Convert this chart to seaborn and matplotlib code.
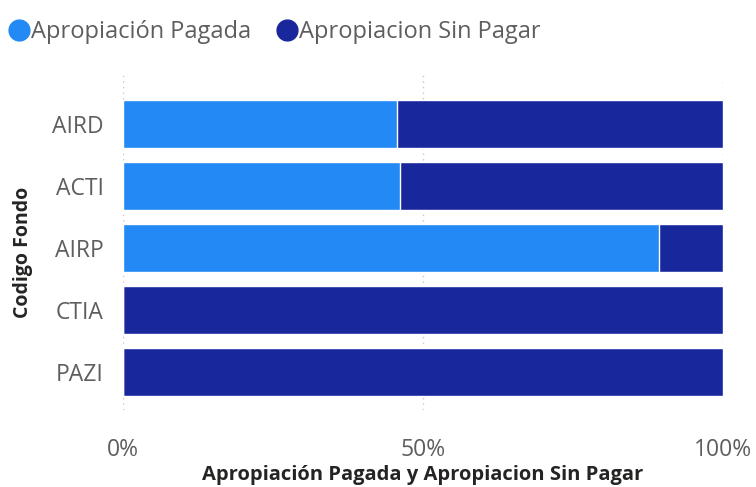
import pandas as pd
import seaborn as sns
import matplotlib.pyplot as plt
from matplotlib.lines import Line2D
from matplotlib.ticker import PercentFormatter

# Data (share of appropriation, %)
codigos = ["AIRD", "ACTI", "AIRP", "CTIA", "PAZI"]
pagada = [45.7, 46.2, 89.4, 0.0, 0.0]
sin_pagar = [54.3, 53.8, 10.6, 100.0, 100.0]

df = pd.DataFrame({"Codigo Fondo": codigos, "Pagada": pagada, "Sin Pagar": sin_pagar})
df["Total"] = df["Pagada"] + df["Sin Pagar"]

light = "#2389F4"
dark = "#18289C"
grey = "#605E5C"

sns.set_theme(style="white")
plt.rcParams["font.family"] = ["Open Sans", "DejaVu Sans"]

fig = plt.figure(figsize=(7.56, 4.87), dpi=100)
ax = fig.add_axes([0.1627, 0.158, 0.7937, 0.688])

# stacked 100% bars: draw total in dark, then paid part on top
sns.barplot(data=df, x="Total", y="Codigo Fondo", color=dark, width=0.77,
            saturation=1, ax=ax, zorder=2)
sns.barplot(data=df, x="Pagada", y="Codigo Fondo", color=light, width=0.77,
            saturation=1, ax=ax, zorder=3)

ax.set_xlim(0, 100)
ax.set_ylim(4.61, -0.79)
ax.set_xticks([0, 50, 100])
ax.xaxis.set_major_formatter(PercentFormatter(decimals=0))
ax.grid(axis="x", color="#C8C6C4", linestyle=(0, (1, 3)), linewidth=1, zorder=0)
for s in ax.spines.values():
    s.set_visible(False)
ax.tick_params(axis="both", length=0, labelsize=16.5, labelcolor=grey)
ax.tick_params(axis="x", pad=20)
ax.tick_params(axis="y", pad=14)

ax.set_xlabel("Apropiación Pagada y Apropiacion Sin Pagar", fontsize=14.5,
              fontweight="bold", color="#252423", labelpad=2)
ax.set_ylabel("Codigo Fondo", fontsize=14, fontweight="bold", color="#252423")
ax.yaxis.set_label_coords(-0.15, 0.47)

handles = [Line2D([], [], marker="o", linestyle="none", markersize=15,
                  markerfacecolor=light, markeredgecolor=light),
           Line2D([], [], marker="o", linestyle="none", markersize=15,
                  markerfacecolor=dark, markeredgecolor=dark)]
fig.legend(handles, ["Apropiación Pagada", "Apropiacion Sin Pagar"],
           loc="upper left", bbox_to_anchor=(-0.015, 0.992), ncol=2, frameon=False,
           fontsize=17, labelcolor=grey, handletextpad=-0.1, handlelength=1.2,
           columnspacing=0.9, borderaxespad=0.3)

fig.savefig("out.png", dpi=100)
